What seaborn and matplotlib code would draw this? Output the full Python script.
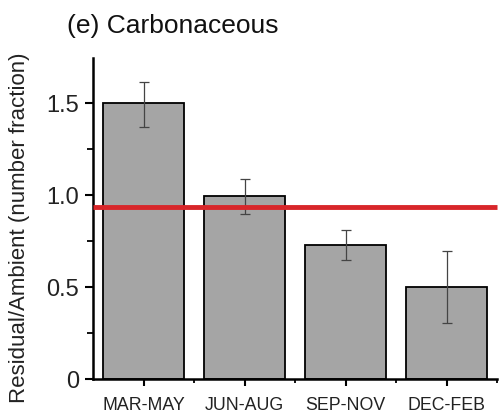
import matplotlib
matplotlib.use("Agg")
import matplotlib.pyplot as plt
from matplotlib.ticker import MultipleLocator, FixedLocator
import seaborn as sns
import pandas as pd

seasons = ["MAR-MAY", "JUN-AUG", "SEP-NOV", "DEC-FEB"]
ratio = [1.50, 0.995, 0.728, 0.50]
err_low = [1.37, 0.897, 0.647, 0.304]
err_high = [1.614, 1.087, 0.81, 0.696]
reference_level = 0.935

sns.set_theme(style="ticks")
plt.rcParams["font.family"] = ["Liberation Sans", "DejaVu Sans"]

df = pd.DataFrame({"season": seasons, "ratio": ratio})

fig = plt.figure(figsize=(5.0, 4.18), dpi=100)
ax = fig.add_axes([0.186, 0.0933, 0.808, 0.768])

sns.barplot(data=df, x="season", y="ratio", order=seasons, color="#a5a5a5",
            saturation=1, width=0.8, edgecolor="black", linewidth=1.3,
            errorbar=None, ax=ax, zorder=2)

xpos = range(len(seasons))
lower = [r - lo for r, lo in zip(ratio, err_low)]
upper = [hi - r for r, hi in zip(ratio, err_high)]
ax.errorbar(xpos, ratio, yerr=[lower, upper], fmt="none", ecolor="#444444",
            elinewidth=0.9, capsize=3.5, capthick=0.9, zorder=3)

ax.axhline(reference_level, color="#d8262a", lw=3.5, zorder=4, clip_on=False,
           solid_capstyle="butt")

ax.set_xlim(-0.5, 3.5)
ax.set_ylim(0, 1.745)
ax.yaxis.set_major_locator(FixedLocator([0, 0.5, 1.0, 1.5]))
ax.set_yticklabels(["0", "0.5", "1.0", "1.5"])
ax.yaxis.set_minor_locator(MultipleLocator(0.25))
ax.xaxis.set_minor_locator(FixedLocator([0.5, 1.5, 2.5, 3.5]))

ax.tick_params(axis="y", which="major", direction="out", length=6, width=1.5,
               labelsize=17, pad=4, color="black", labelcolor="#222222")
ax.tick_params(axis="y", which="minor", direction="out", length=4, width=1.3, color="black")
ax.tick_params(axis="x", which="major", direction="out", length=5, width=1.5,
               labelsize=12.8, pad=8, color="black", labelcolor="#222222")
ax.tick_params(axis="x", which="minor", direction="out", length=3, width=1.3, color="black")

ax.set_xlabel("")
ax.set_ylabel("")
for side in ("top", "right"):
    ax.spines[side].set_visible(False)
for side in ("left", "bottom"):
    ax.spines[side].set_linewidth(1.8)
    ax.spines[side].set_color("black")

fig.text(0.04, 0.455, "Residual/Ambient (number fraction)", rotation=90,
         ha="center", va="center", fontsize=16, color="#222222")
fig.text(0.134, 0.921, "(e) Carbonaceous", ha="left", va="baseline",
         fontsize=19, color="#111111")

fig.savefig("out.png", dpi=100, facecolor="white")
